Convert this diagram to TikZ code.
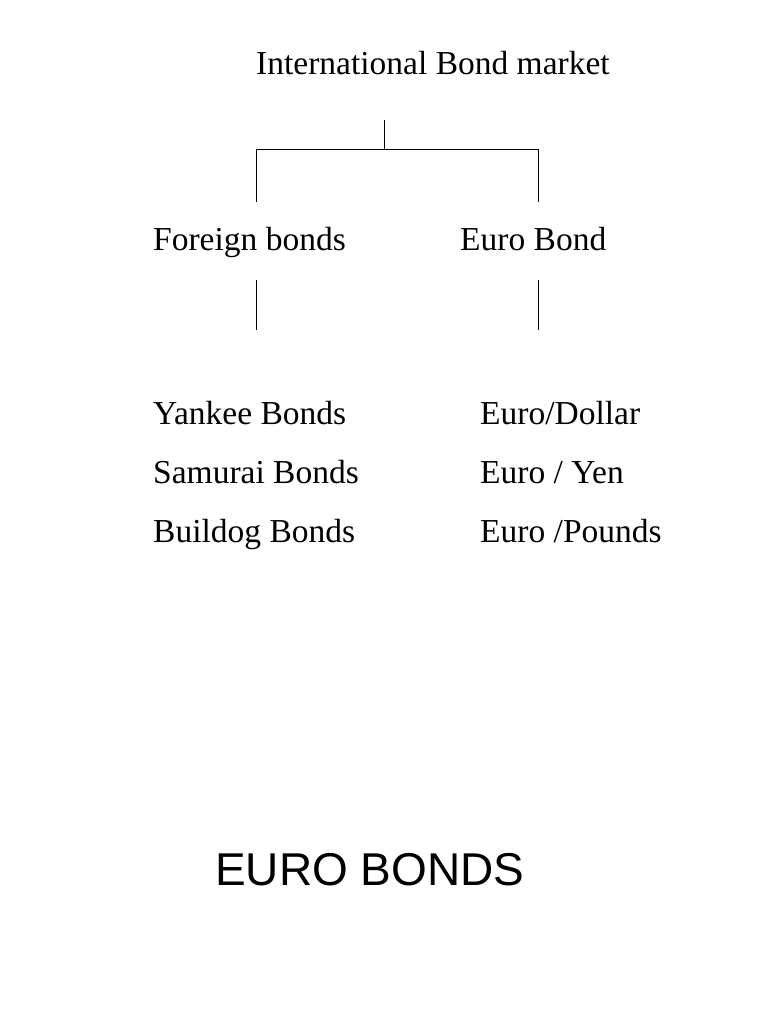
\documentclass[tikz,border=0pt]{standalone}
\usepackage{fontspec}
\setmainfont{Liberation Serif}
\newfontfamily\titlefont{Liberation Sans}
\begin{document}
\begin{tikzpicture}[x=1pt,y=-1pt,
  lbl/.style={anchor=base west,inner sep=0pt,font=\fontsize{33.5}{40}\selectfont},
  ln/.style={draw,line width=1pt}]
\useasboundingbox (0,0) rectangle (768,1024);
\node[lbl] (top) at (256,75) {International Bond market};
\node[lbl] (fb) at (153,250) {Foreign bonds};
\node[lbl] (eb) at (460,250) {Euro Bond};
\node[lbl] (y1) at (153,424) {Yankee Bonds};
\node[lbl] (y2) at (153,483) {Samurai Bonds};
\node[lbl] (y3) at (153,542) {Buildog Bonds};
\node[lbl] (e1) at (480,424) {Euro/Dollar};
\node[lbl] (e2) at (480,483) {Euro / Yen};
\node[lbl] (e3) at (480,542) {Euro /Pounds};
\node[anchor=base west,inner sep=0pt,font=\titlefont\fontsize{46}{56}\selectfont] (t) at (215,885) {EURO BONDS};
\coordinate (a0) at (384,120);
\coordinate (a1) at (384,150);
\coordinate (l1) at (256,150);
\coordinate (r1) at (538,150);
\coordinate (l2) at (256,202);
\coordinate (r2) at (538,202);
\coordinate (l3) at (256,280);
\coordinate (l4) at (256,330);
\coordinate (r3) at (538,280);
\coordinate (r4) at (538,330);
\draw[ln] (a0) -- (a1);
\draw[ln] (l2) -- (l1) -- (r1) -- (r2);
\draw[ln] (l3) -- (l4);
\draw[ln] (r3) -- (r4);
\end{tikzpicture}
\end{document}
